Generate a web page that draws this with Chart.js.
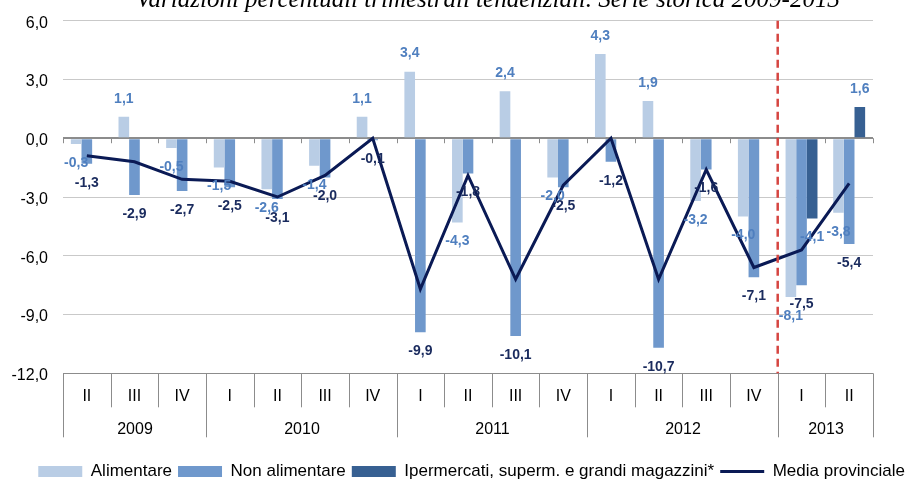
<!DOCTYPE html>
<html lang="it">
<head>
    <meta charset="UTF-8">
    <title>Variazioni percentuali trimestrali tendenziali</title>
    <script src="https://cdn.jsdelivr.net/npm/chart.js"></script>
    <style>
        html, body { margin: 0; padding: 0; background: #fff; }
    </style>
</head>
<body>
    <canvas id="grafico" width="911" height="480"></canvas>

    <script>
        const titolo = 'Variazioni percentuali trimestrali tendenziali. Serie storica 2009-2013'
        const trimestri = ['II','III','IV','I','II','III','IV','I','II','III','IV','I','II','III','IV','I','II']
        const anni = ['2009','2010','2011','2012','2013']
        const trimestriPerAnno = [3,4,4,4,2]

        const alimentare    = [-0.3, 1.1, -0.5, -1.5, -2.6, -1.4, 1.1, 3.4, -4.3, 2.4, -2.0, 4.3, 1.9, -3.2, -4.0, -8.1, -3.8]
        const nonAlimentare = [-1.3, -2.9, -2.7, -2.5, -3.1, -2.0, -0.1, -9.9, -1.8, -10.1, -2.5, -1.2, -10.7, -1.6, -7.1, -7.5, -5.4]
        const ipermercati   = [null, null, null, null, null, null, null, null, null, null, null, null, null, null, null, -4.1, 1.6]
        const mediaProv     = [-0.9, -1.2, -2.1, -2.2, -3.0, -1.9, 0.0, -7.7, -1.9, -7.2, -2.4, 0.0, -7.2, -1.6, -6.6, -5.7, -2.3]

        const yMin = -12, yMax = 6, yPasso = 3

        const FONT = '"Liberation Sans", Arial, sans-serif'
        const virgola = v => v.toFixed(1).replace('.', ',')

        // linee e testi dell'asse x (trimestri + anni), tacche sulla linea dello zero
        const assePlugin = {
          id: 'asse',
          beforeDatasetsDraw(chart) {
            const {ctx, chartArea: a, scales: {x, y}} = chart
            const passo = x.getPixelForValue(1) - x.getPixelForValue(0)
            const bordo = i => Math.round(x.getPixelForValue(i) - passo / 2) + 0.5
            const y0 = y.getPixelForValue(0)
            ctx.save()
            ctx.strokeStyle = '#8c8c8c'
            ctx.lineWidth = 1
            ctx.beginPath()
            for (let i = 0; i <= trimestri.length; i++) {
              ctx.moveTo(bordo(i), y0)
              ctx.lineTo(bordo(i), y0 + 5)
            }
            ctx.stroke()

            // separatori dei trimestri, piu' lunghi a inizio anno
            let inizioAnno = [0]
            trimestriPerAnno.forEach(n => inizioAnno.push(inizioAnno[inizioAnno.length - 1] + n))
            ctx.beginPath()
            for (let i = 0; i <= trimestri.length; i++) {
              const lungo = inizioAnno.includes(i)
              ctx.moveTo(bordo(i), a.bottom)
              ctx.lineTo(bordo(i), a.bottom + (lungo ? 64 : 34))
            }
            ctx.stroke()

            ctx.fillStyle = '#000'
            ctx.font = '16px ' + FONT
            ctx.textAlign = 'center'
            ctx.textBaseline = 'middle'
            trimestri.forEach((t, i) => ctx.fillText(t, x.getPixelForValue(i), a.bottom + 23))
            anni.forEach((anno, k) => {
              const xc = (bordo(inizioAnno[k]) + bordo(inizioAnno[k + 1])) / 2
              ctx.fillText(anno, xc, a.bottom + 56)
            })
            ctx.restore()
          }
        }

        // linea rossa tratteggiata prima del 2013 + etichette dei valori
        const etichettePlugin = {
          id: 'etichette',
          afterDatasetsDraw(chart) {
            const {ctx, chartArea: a, scales: {x}} = chart
            const passo = x.getPixelForValue(1) - x.getPixelForValue(0)
            const iUltimo = trimestriPerAnno.slice(0, -1).reduce((s, n) => s + n, 0)
            const xr = x.getPixelForValue(iUltimo) - passo / 2
            ctx.save()
            ctx.strokeStyle = '#d64541'
            ctx.lineWidth = 2.5
            ctx.setLineDash([8, 5])
            ctx.beginPath()
            ctx.moveTo(xr, a.top)
            ctx.lineTo(xr, a.bottom)
            ctx.stroke()
            ctx.restore()

            ctx.save()
            ctx.font = 'bold 14px ' + FONT
            ctx.textAlign = 'center'
            ctx.textBaseline = 'middle'
            chart.data.datasets.forEach((ds, i) => {
              if (ds.type === 'line') return
              chart.getDatasetMeta(i).data.forEach((bar, j) => {
                const v = ds.data[j]
                if (v === null) return
                ctx.fillStyle = ds.coloreEtichetta
                ctx.fillText(virgola(v), bar.x, v >= 0 ? bar.y - 18 : bar.y + 19)
              })
            })
            ctx.restore()
          },
          afterDraw(chart) {
            const ctx = chart.ctx
            ctx.save()
            ctx.font = 'italic 25px "Liberation Serif", "Times New Roman", serif'
            ctx.fillStyle = '#000'
            ctx.textAlign = 'center'
            ctx.textBaseline = 'alphabetic'
            ctx.fillText(titolo, 488, 7)
            ctx.restore()
          }
        }

        const ctx = document.getElementById('grafico')

        let grafico = new Chart(ctx, {
          type: 'bar',
          data: {
            labels: trimestri,
            datasets: [
              { label: 'Alimentare', data: alimentare, backgroundColor: '#b9cde5', coloreEtichetta: '#4f7fbf', order: 1 },
              { label: 'Non alimentare', data: nonAlimentare, backgroundColor: '#6f98cc', coloreEtichetta: '#1a2b5e', order: 1 },
              { label: 'Ipermercati, superm. e grandi magazzini*', data: ipermercati, backgroundColor: '#376092', coloreEtichetta: '#4f7fbf', order: 1 },
              { type: 'line', label: 'Media provinciale', data: mediaProv, borderColor: '#0a1a55', backgroundColor: '#0a1a55',
                borderWidth: 3, pointRadius: 0, tension: 0, order: 0 }
            ]
          },
          options: {
            responsive: false,
            animation: false,
            font: { family: FONT },
            layout: { padding: { top: 20.7, right: 0, left: 0, bottom: -10 } },
            datasets: { bar: { categoryPercentage: 0.67, barPercentage: 1.0 } },
            scales: {
              x: {
                grid: { display: false },
                border: { display: false },
                ticks: { display: false },
                afterFit: s => { s.height = 83.7 }
              },
              y: {
                min: yMin,
                max: yMax,
                border: { display: false },
                grid: {
                  drawTicks: false,
                  color: c => (c.tick.value === 0 || c.tick.value === yMin) ? '#8c8c8c' : '#c9c9c9',
                  lineWidth: c => c.tick.value === 0 ? 2 : 1
                },
                ticks: {
                  stepSize: yPasso,
                  padding: 15,
                  labelOffset: 2.5,
                  color: '#000',
                  font: { size: 16, family: FONT },
                  callback: v => virgola(v)
                },
                afterFit: s => {
                  s.width = 63
                  s.paddingTop = 0
                  s.paddingBottom = 0
                }
              },
              // asse vuoto a destra: lascia il margine al grafico ma non alla legenda
              destra: {
                type: 'linear',
                position: 'right',
                grid: { display: false },
                border: { display: false },
                ticks: { display: false },
                afterFit: s => {
                  s.width = 38
                  s.paddingTop = 0
                  s.paddingBottom = 0
                }
              }
            },
            plugins: {
              tooltip: { enabled: false },
              legend: {
                position: 'bottom',
                align: 'end',
                labels: {
                  usePointStyle: true,
                  pointStyleWidth: 44,
                  boxHeight: 11,
                  padding: 6,
                  color: '#000',
                  font: { size: 17, family: FONT },
                  sort: (a, b) => a.datasetIndex - b.datasetIndex,
                  generateLabels(chart) {
                    const voci = Chart.defaults.plugins.legend.labels.generateLabels(chart)
                    voci.forEach(v => {
                      const ds = chart.data.datasets[v.datasetIndex]
                      if (ds.type === 'line') {
                        v.pointStyle = 'line'
                        v.lineWidth = 3
                        v.strokeStyle = ds.borderColor
                      } else {
                        v.pointStyle = 'rect'
                        v.lineWidth = 0
                      }
                    })
                    return voci
                  }
                }
              }
            }
          },
          plugins: [assePlugin, etichettePlugin]
        })
    </script>
</body>
</html>
